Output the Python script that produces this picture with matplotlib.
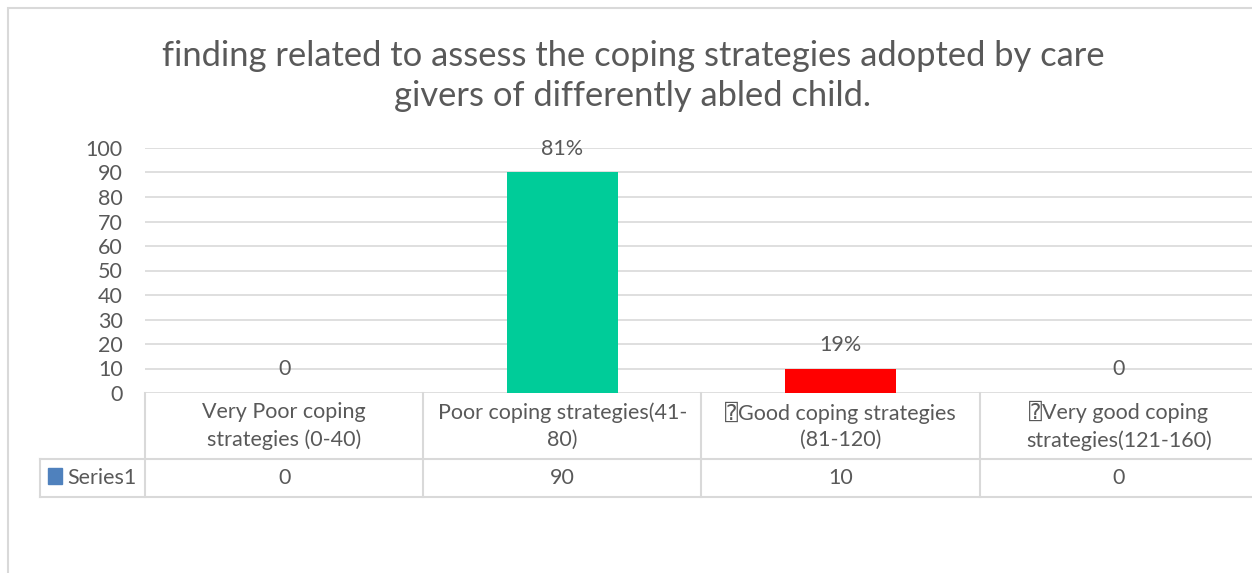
import numpy as np
import matplotlib
matplotlib.use("Agg")
import matplotlib.pyplot as plt
from matplotlib.patches import Rectangle
from matplotlib.transforms import blended_transform_factory

fams = ['Lato', 'DejaVu Sans', 'DejaVu Sans Mono']
plt.rcParams['font.family'] = fams

categories = ["Very Poor coping\nstrategies (0-40)",
              "Poor coping strategies(41-\n80)",
              "\u2370Good coping strategies\n(81-120)",
              "\u2370Very good coping\nstrategies(121-160)"]
values = [0, 90, 10, 0]
bar_labels = ["0", "81%", "19%", "0"]
bar_colors = ["#00CC99", "#00CC99", "#FF0000", "#FF0000"]
series_name = "Series1"
title = "finding related to assess the coping strategies adopted by care\ngivers of differently abled child."

W, H = 1252, 573
text_c = "#595959"
line_c = "#D9D9D9"
fs = 15.5

fig = plt.figure(figsize=(W / 100, H / 100), dpi=100)

def fx(px):
    return px / W

def fy(py):
    return 1 - py / H

# outer chart frame
fig.patches.append(Rectangle((fx(8), fy(600)), fx(1300), fy(8) - fy(600),
                             transform=fig.transFigure, fill=False,
                             edgecolor=line_c, lw=1.5))

# plot area
x0, x1, ytop, ybot = 145, 1258, 148, 393
ax = fig.add_axes([fx(x0), fy(ybot), fx(x1 - x0), fy(ytop) - fy(ybot)])
ax.set_xlim(-0.5, 3.5)
ax.set_ylim(0, 100)
for s in ax.spines.values():
    s.set_visible(False)
ax.set_yticks(np.arange(0, 101, 10))
ax.tick_params(axis='y', length=0, labelsize=fs, labelcolor=text_c, pad=16)
ax.set_xticks([])
ax.grid(axis='y', color=line_c, lw=1.2)
ax.set_axisbelow(True)

x = np.arange(len(values))
ax.bar(x, values, width=0.4, color=bar_colors, zorder=3)
for xi, v, lab in zip(x, values, bar_labels):
    ax.annotate(lab, (xi, v), xytext=(0, 17), textcoords='offset points',
                ha='center', va='center', fontsize=fs, color=text_c)

fig.text(fx(633), fy(76), title, ha='center', va='center', fontsize=24.8,
         color=text_c, linespacing=1.3)

# data table
tr = blended_transform_factory(ax.transData, fig.transFigure)
y_head_top, y_head_bot, y_row_bot = 393, 459, 497
bounds = np.arange(len(values) + 1) - 0.5
for b in bounds:
    ax.plot([b, b], [fy(y_head_top), fy(y_row_bot)], transform=tr,
            color=line_c, lw=1.5, clip_on=False)
for yy in (y_head_bot, y_row_bot):
    fig.add_artist(plt.Line2D([fx(40), fx(1260)], [fy(yy), fy(yy)],
                              transform=fig.transFigure, color=line_c, lw=1.5))
fig.add_artist(plt.Line2D([fx(40), fx(40)], [fy(y_head_bot), fy(y_row_bot)],
                          transform=fig.transFigure, color=line_c, lw=1.5))

for xi, cat, v in zip(x, categories, values):
    ax.text(xi, fy(426), cat, transform=tr,
            ha='center', va='center', fontsize=fs, color=text_c,
            linespacing=1.4, family=fams)
    ax.text(xi, fy(478), str(v), transform=tr,
            ha='center', va='center', fontsize=fs, color=text_c)

fig.patches.append(Rectangle((fx(48), fy(484)), fx(14), fy(468) - fy(484),
                             transform=fig.transFigure, color="#4F81BD"))
fig.text(fx(67), fy(478), series_name, ha='left', va='center',
         fontsize=fs, color=text_c)

fig.savefig("out.png", dpi=100)
